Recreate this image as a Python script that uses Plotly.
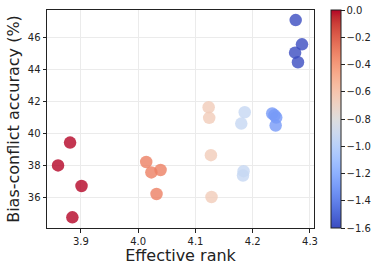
import plotly.graph_objects as go

effective_rank = [3.881, 3.860, 3.901, 3.885,
                  4.014, 4.023, 4.039, 4.032,
                  4.123, 4.124, 4.127, 4.128,
                  4.186, 4.180, 4.184, 4.183,
                  4.234, 4.238, 4.241, 4.240,
                  4.275, 4.286, 4.274, 4.279]
bias_conflict_acc = [39.41, 37.98, 36.69, 34.73,
                     38.19, 37.54, 37.69, 36.19,
                     41.62, 40.96, 38.62, 36.00,
                     41.31, 40.60, 37.62, 37.35,
                     41.23, 41.12, 40.98, 40.48,
                     47.08, 45.56, 45.04, 44.44]
color_value = [0.0] * 4 + [-0.3] * 4 + [-0.65] * 4 + [-0.93] * 4 + [-1.3] * 4 + [-1.6] * 4

x_ticks = [3.9, 4.0, 4.1, 4.2, 4.3]
y_ticks = [36, 38, 40, 42, 44, 46]
cbar_ticks = [0.0, -0.2, -0.4, -0.6, -0.8, -1.0, -1.2, -1.4, -1.6]

coolwarm_rgb = [
    (59, 76, 192), (68, 90, 204), (77, 104, 215), (87, 117, 225), (98, 130, 234),
    (108, 142, 241), (119, 154, 247), (130, 165, 251), (141, 176, 254), (152, 185, 255),
    (163, 194, 255), (174, 201, 253), (184, 208, 249), (194, 213, 244), (204, 217, 238),
    (213, 219, 230), (221, 221, 221), (229, 216, 209), (236, 211, 197), (241, 204, 185),
    (245, 196, 173), (247, 187, 160), (247, 177, 148), (247, 166, 135), (244, 154, 123),
    (241, 141, 111), (236, 127, 99), (229, 112, 88), (222, 96, 77), (213, 80, 66),
    (203, 62, 56), (192, 40, 47), (180, 4, 38)]
n = len(coolwarm_rgb) - 1
coolwarm = [[i / n, "rgb(%d,%d,%d)" % c] for i, c in enumerate(coolwarm_rgb)]

font_family = "DejaVu Sans"

fig = go.Figure(go.Scatter(
    x=effective_rank, y=bias_conflict_acc, mode="markers",
    marker=dict(size=12.5, color=color_value, colorscale=coolwarm, cmin=-1.6, cmax=0.0,
                opacity=0.8, line=dict(width=0),
                colorbar=dict(
                    x=1.064, xanchor="left", xpad=0, ypad=0, y=0.5, yanchor="middle",
                    len=1, lenmode="fraction", thickness=10, thicknessmode="pixels",
                    outlinewidth=1, outlinecolor="#222",
                    tickmode="array", tickvals=cbar_ticks,
                    ticktext=["0.0"] + ["\u2212%.1f" % abs(v) for v in cbar_ticks[1:]],
                    ticks="outside", ticklen=3.5, tickwidth=0.8, tickcolor="#222",
                    tickfont=dict(family=font_family, size=10, color="#222"))),
    showlegend=False))

fig.update_layout(
    width=379, height=271,
    margin=dict(l=47, r=65, t=10, b=43, autoexpand=False),
    paper_bgcolor="white", plot_bgcolor="white",
    font=dict(family=font_family, color="#222"),
    xaxis=dict(range=[3.8407, 4.307], tickvals=x_ticks, ticktext=["%.1f" % v for v in x_ticks],
               automargin=False,
               showgrid=True, gridcolor="#ebebeb", gridwidth=1, zeroline=False,
               showline=True, linecolor="#222", linewidth=1, mirror=True,
               ticks="outside", ticklen=3.5, tickwidth=0.8, tickcolor="#222",
               tickfont=dict(size=10),
               title=dict(text="Effective rank", font=dict(size=16), standoff=4)),
    yaxis=dict(range=[34.06, 47.71], tickvals=y_ticks, ticktext=[str(v) for v in y_ticks],
               automargin=False,
               showgrid=True, gridcolor="#ebebeb", gridwidth=1, zeroline=False,
               showline=True, linecolor="#222", linewidth=1, mirror=True,
               ticks="outside", ticklen=3.5, tickwidth=0.8, tickcolor="#222",
               tickfont=dict(size=10),
               title=dict(text="Bias-conflict accuracy (%)", font=dict(size=16), standoff=4)),
)

fig.write_html("out.html", config={"displayModeBar": False},
               post_script="document.body.style.margin='0px';")
